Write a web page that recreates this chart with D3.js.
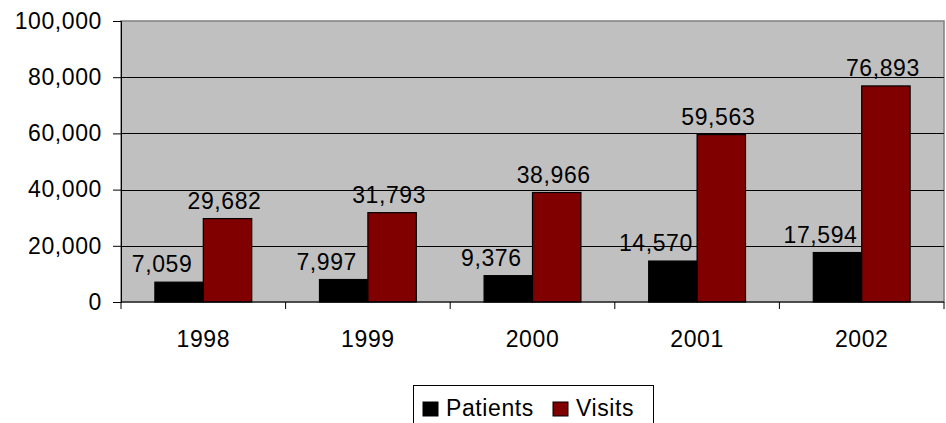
<!DOCTYPE html>
<html><head><meta charset="utf-8">
<script src="https://cdn.jsdelivr.net/npm/d3@7"></script>
<style>
html,body{margin:0;padding:0;background:#fff;}
text{font-family:"Liberation Sans",Arial,sans-serif;font-size:23px;letter-spacing:0.6px;fill:#000;}
</style></head>
<body><svg id="c" width="946" height="423"></svg>
<script>
const years = ["1998","1999","2000","2001","2002"];
const patients = [7059, 7997, 9376, 14570, 17594];
const visits = [29682, 31793, 38966, 59563, 76893];
const seriesNames = ["Patients","Visits"];
const seriesColors = ["#000000","#800000"];
const yTicks = [0,20000,40000,60000,80000,100000];

const svg = d3.select("#c");
const L=121, R=944, T=21, B=302;
const x = d3.scaleBand().domain(years).range([L,R]).paddingInner(0).paddingOuter(0);
const y = d3.scaleLinear().domain([0,100000]).range([B,T]);
const fmt = d3.format(",");

svg.append("rect").attr("x",L).attr("y",T).attr("width",R-L).attr("height",B-T)
  .attr("fill","#C0C0C0").attr("stroke","#808080").attr("stroke-width",1.5);

// gridlines
svg.append("g").selectAll("line").data(yTicks.filter(d=>d>0 && d<100000)).join("line")
  .attr("x1",L).attr("x2",R).attr("y1",d=>Math.round(y(d))+0.5).attr("y2",d=>Math.round(y(d))+0.5)
  .attr("stroke","#000").attr("stroke-width",1);

// bars
const inner = d3.scaleBand().domain(seriesNames).range([0,x.bandwidth()]).paddingOuter(0.7).paddingInner(0);
const data = years.map((yr,i)=>({yr, vals:[patients[i],visits[i]]}));
const g = svg.append("g");
data.forEach(d=>{
  d.vals.forEach((v,j)=>{
    const bx = x(d.yr)+inner(seriesNames[j]);
    g.append("rect").attr("x",bx).attr("y",y(v)).attr("width",inner.bandwidth()).attr("height",y(0)-y(v))
      .attr("fill",seriesColors[j]).attr("stroke","#000").attr("stroke-width",1.2);
    const dx = j===0 ? -17 : -3;
    g.append("text").attr("x",bx+inner.bandwidth()/2+dx).attr("y",y(v)-10)
      .attr("text-anchor","middle").text(fmt(v));
  });
});

// y axis
const ya = d3.axisLeft(y).tickValues(yTicks).tickFormat(fmt).tickSize(8).tickPadding(11);
const yg = svg.append("g").attr("transform",`translate(${L},0)`).call(ya);
yg.select(".domain").attr("stroke","#000");
yg.selectAll("text").style("font-size","23px").style("font-family","Liberation Sans, Arial, sans-serif");

// x axis
const xg = svg.append("g").attr("transform",`translate(0,${B})`);
xg.append("line").attr("x1",L).attr("x2",R).attr("y1",0).attr("y2",0).attr("stroke","#000");
const bounds = years.map(d=>x(d)).concat([R]);
xg.selectAll("line.tk").data(bounds).join("line").attr("class","tk")
  .attr("x1",d=>d).attr("x2",d=>d).attr("y1",0).attr("y2",7).attr("stroke","#000");
xg.selectAll("text").data(years).join("text")
  .attr("x",d=>x(d)+x.bandwidth()/2).attr("y",45).attr("text-anchor","middle").text(d=>d);

// legend
const lg = svg.append("g");
lg.append("rect").attr("x",413.5).attr("y",385.5).attr("width",240).attr("height",50)
  .attr("fill","#fff").attr("stroke","#000");
const lx = [423,553];
seriesNames.forEach((n,j)=>{
  lg.append("rect").attr("x",lx[j]).attr("y",402).attr("width",15).attr("height",14)
    .attr("fill",seriesColors[j]).attr("stroke","#000").attr("stroke-width",1);
  lg.append("text").attr("x",lx[j]+23).attr("y",416).text(n);
});
</script></body></html>
